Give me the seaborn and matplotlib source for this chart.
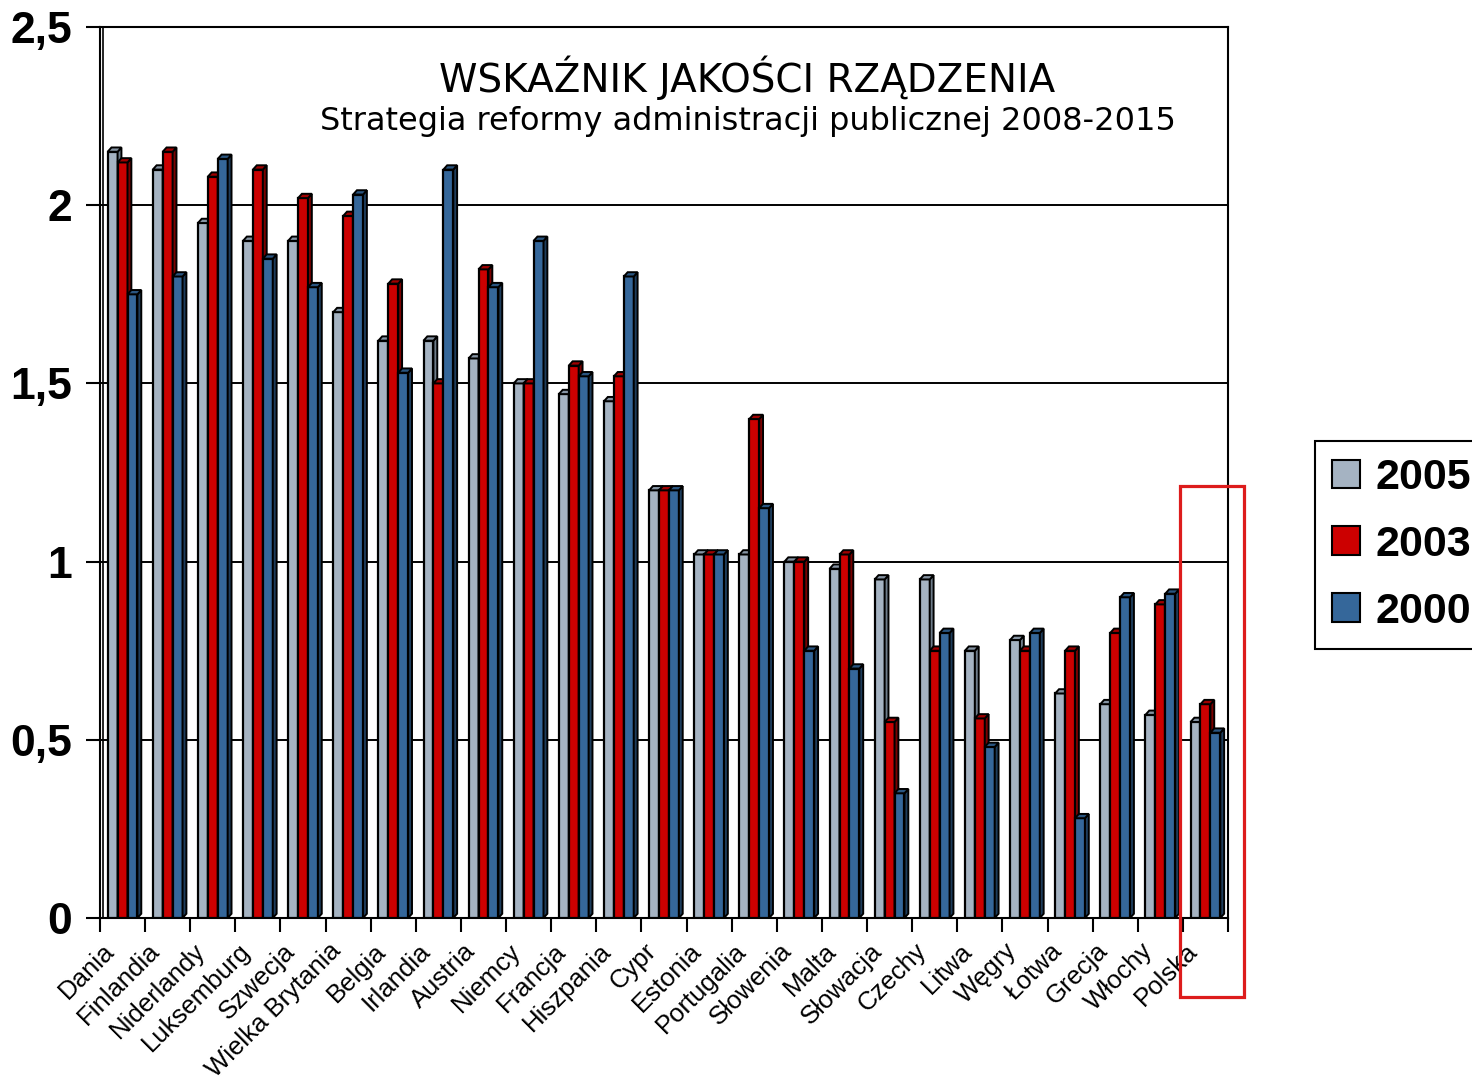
import numpy as np
import pandas as pd
import matplotlib
matplotlib.use("Agg")
import matplotlib.pyplot as plt
import seaborn as sns
from matplotlib.patches import Polygon, Rectangle, Patch
import matplotlib.transforms as mtransforms
from matplotlib.ticker import FuncFormatter

countries = ["Dania", "Finlandia", "Niderlandy", "Luksemburg", "Szwecja",
             "Wielka Brytania", "Belgia", "Irlandia", "Austria", "Niemcy",
             "Francja", "Hiszpania", "Cypr", "Estonia", "Portugalia",
             "Słowenia", "Malta", "Słowacja", "Czechy", "Litwa", "Węgry",
             "Łotwa", "Grecja", "Włochy", "Polska"]
v2005 = [2.15, 2.10, 1.95, 1.90, 1.90, 1.70, 1.62, 1.62, 1.57, 1.50,
         1.47, 1.45, 1.20, 1.02, 1.02, 1.00, 0.98, 0.95, 0.95, 0.75,
         0.78, 0.63, 0.60, 0.57, 0.55]
v2003 = [2.12, 2.15, 2.08, 2.10, 2.02, 1.97, 1.78, 1.50, 1.82, 1.50,
         1.55, 1.52, 1.20, 1.02, 1.40, 1.00, 1.02, 0.55, 0.75, 0.56,
         0.75, 0.75, 0.80, 0.88, 0.60]
v2000 = [1.75, 1.80, 2.13, 1.85, 1.77, 2.03, 1.53, 2.10, 1.77, 1.90,
         1.52, 1.80, 1.20, 1.02, 1.15, 0.75, 0.70, 0.35, 0.80, 0.48,
         0.80, 0.28, 0.90, 0.91, 0.52]
years = ["2005", "2003", "2000"]
yticks = [0, 0.5, 1, 1.5, 2, 2.5]

colors = {"2005": "#A5B3C2", "2003": "#CC0000", "2000": "#35679A"}
side_colors = {"2005": "#6E7C8A", "2003": "#7A0000", "2000": "#1E3D5C"}
top_colors = {"2005": "#8593A2", "2003": "#A00000", "2000": "#2A5580"}

sns.set_theme(style="white")
plt.rcParams["font.family"] = ["Liberation Sans", "DejaVu Sans"]
plt.rcParams["text.color"] = "black"
plt.rcParams["xtick.color"] = "black"
plt.rcParams["ytick.color"] = "black"
plt.rcParams["axes.labelcolor"] = "black"

fig = plt.figure(figsize=(14.72, 10.84), dpi=100)
ax = fig.add_axes([100 / 1472, 1 - 918 / 1084, 1128 / 1472, 891 / 1084])

df = pd.DataFrame({
    "country": countries * 3,
    "year": np.repeat(years, len(countries)),
    "value": v2005 + v2003 + v2000,
})
sns.barplot(data=df, x="country", y="value", hue="year", hue_order=years,
            order=countries, palette=colors, saturation=1, width=0.66,
            edgecolor="black", linewidth=1.6, errorbar=None, legend=False,
            ax=ax)

ax.set_xlim(-0.5, len(countries) - 0.5)
ax.set_ylim(0, 2.5)

# pseudo-3D faces
dx, dy = 0.085, 0.012
for i, (cont, yr) in enumerate(zip(ax.containers, years)):
    z = 3 + i
    for p in cont.patches:
        p.set_zorder(z)
        x0, w, h = p.get_x(), p.get_width(), p.get_height()
        side = Polygon([(x0 + w, 0), (x0 + w + dx, dy), (x0 + w + dx, h + dy), (x0 + w, h)],
                       closed=True, facecolor=side_colors[yr], edgecolor="black",
                       linewidth=1.4, zorder=z)
        top = Polygon([(x0, h), (x0 + dx, h + dy), (x0 + w + dx, h + dy), (x0 + w, h)],
                      closed=True, facecolor=top_colors[yr], edgecolor="black",
                      linewidth=1.4, zorder=z)
        ax.add_patch(side)
        ax.add_patch(top)

# grid and spines
ax.set_yticks(yticks)
ax.yaxis.grid(True, color="black", linewidth=1.4, zorder=1)
ax.set_axisbelow(True)
for s in ax.spines.values():
    s.set_color("black")
    s.set_linewidth(1.5)
ax.axvline(-0.5 + 0.07, color="black", linewidth=1.2, zorder=2)

ax.yaxis.set_major_formatter(FuncFormatter(lambda v, pos: f"{v:g}".replace(".", ",")))
ax.tick_params(axis="y", labelsize=32, length=10, width=1.5, color="black", pad=10,
               left=True, direction="out", labelcolor="black")
for lab in ax.get_yticklabels():
    lab.set_fontweight("bold")

ax.set_xticks(range(len(countries)))
ax.set_xticks(np.arange(-0.5, len(countries), 1), minor=True)
ax.tick_params(axis="x", which="major", length=0, pad=15, labelcolor="black")
ax.tick_params(axis="x", which="minor", length=10, width=1.5, color="black",
               bottom=True, direction="out")
offset = mtransforms.ScaledTranslation(-20 / 100, 0, fig.dpi_scale_trans)
ax.set_xticklabels(countries, rotation=45, ha="right", va="top",
                   rotation_mode="anchor", fontsize=18.5)
for lab in ax.get_xticklabels():
    lab.set_transform(lab.get_transform() + offset)
ax.set_xlabel("")
ax.set_ylabel("")

# titles
ax.text(0.574, 0.943, "WSKAŹNIK JAKOŚCI RZĄDZENIA", transform=ax.transAxes,
        ha="center", va="center", fontsize=28, family="DejaVu Sans",
        color="black", zorder=10)
ax.text(0.574, 0.894, "Strategia reformy administracji publicznej 2008-2015",
        transform=ax.transAxes, ha="center", va="center", fontsize=23,
        family="DejaVu Sans", color="black", zorder=10)

# highlight box around Polska
ax.add_patch(Rectangle((23.44, -0.221), 1.415, 1.434, fill=False,
                       edgecolor="#DD1C1C", linewidth=2.3, clip_on=False, zorder=10))

# legend
handles = [Patch(facecolor=colors[y], edgecolor="black", linewidth=1.5) for y in years]
leg = fig.legend(handles, years, loc="upper left",
                 bbox_to_anchor=(1315 / 1472, 1 - 441 / 1084),
                 prop={"weight": "bold", "size": 31}, frameon=True,
                 fancybox=False, framealpha=1, edgecolor="black",
                 handlelength=0.65, handleheight=0.65, handletextpad=0.35,
                 borderpad=0.4, labelspacing=0.62, borderaxespad=0)
leg.get_frame().set_linewidth(1.5)
for t in leg.get_texts():
    t.set_color("black")

fig.savefig("out.png", dpi=100)
